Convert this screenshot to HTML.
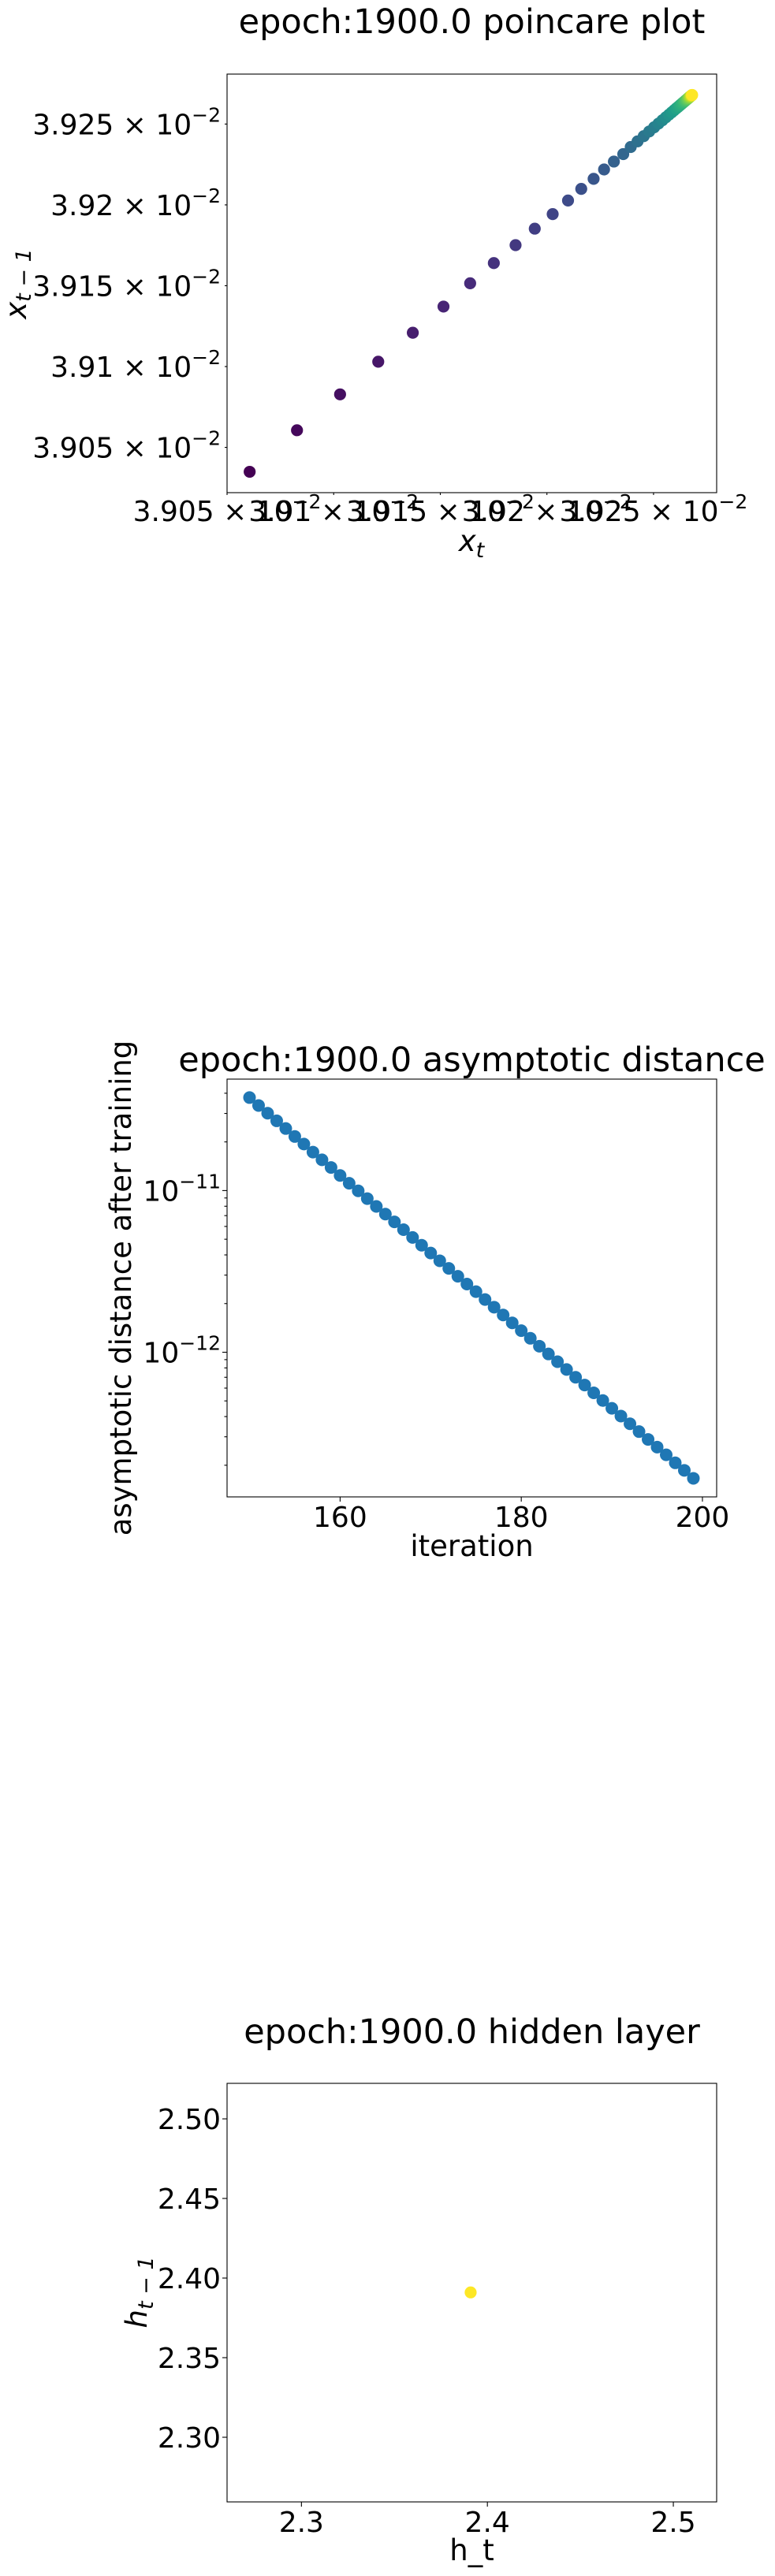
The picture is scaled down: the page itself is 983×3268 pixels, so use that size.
<!DOCTYPE html>
<html><head><meta charset="utf-8"><title>epoch 1900 plots</title>
<style>
html,body{margin:0;padding:0;background:#fff;}
svg{display:block;font-family:"DejaVu Sans","Liberation Sans",sans-serif;}
</style></head>
<body>
<svg id="fig" xmlns="http://www.w3.org/2000/svg" width="983" height="3268" viewBox="0 0 983 3268">
<rect x="0" y="0" width="983" height="3268" fill="#fff"/>
</svg>
<script>
// ---------- Chart 1: poincare plot (sequence values; point i = (v[i+1], v[i])) ----------
const poincareSeq = [0.0390349,0.0390606,0.0390828,0.0391030,0.0391209,0.0391371,0.0391515,0.0391640,0.0391751,0.0391853,
0.0391943,0.0392027,0.0392099,0.0392161,0.0392219,0.0392268,0.0392314,0.0392358,0.0392393,0.0392425,
0.0392454,0.03924798,0.03925028,0.03925232,0.03925414,0.03925576,0.0392572,0.03925848,0.03925962,0.03926063,
0.03926153,0.03926233,0.03926304,0.03926367,0.03926423,0.03926473,0.03926518,0.03926558,0.03926593,0.03926624,
0.03926652,0.03926677,0.03926699,0.03926719,0.03926737,0.03926753,0.03926767,0.03926779,0.0392679,0.039268,0.03926809];
const poincareTicks = [0.03905,0.0391,0.03915,0.0392,0.03925];
const poincareTickLabels = ["3.905","3.91","3.915","3.92","3.925"];

// ---------- Chart 2: asymptotic distance ----------
const iterations = [150,151,152,153,154,155,156,157,158,159,160,161,162,163,164,165,166,167,168,169,170,171,172,173,174,175,176,177,178,179,180,181,182,183,184,185,186,187,188,189,190,191,192,193,194,195,196,197,198,199];
const distances = [3.76e-11,3.36e-11,3.01e-11,2.70e-11,2.42e-11,2.16e-11,1.94e-11,1.73e-11,1.55e-11,1.39e-11,1.24e-11,1.11e-11,
9.96e-12,8.92e-12,7.98e-12,7.15e-12,6.40e-12,5.73e-12,5.13e-12,4.59e-12,4.11e-12,3.68e-12,3.30e-12,2.95e-12,2.64e-12,2.37e-12,2.12e-12,1.90e-12,1.70e-12,1.52e-12,1.36e-12,1.22e-12,1.09e-12,
9.76e-13,8.74e-13,7.82e-13,7.00e-13,6.27e-13,5.61e-13,5.03e-13,4.50e-13,4.03e-13,3.61e-13,3.23e-13,2.89e-13,2.59e-13,2.32e-13,2.07e-13,1.86e-13,1.66e-13];
const iterTicks = [160,180,200];
const distMajorExp = [-11,-12];

// ---------- Chart 3: hidden layer ----------
const hiddenX = [2.391];
const hiddenY = [2.391];
const hiddenXTicks = [2.3,2.4,2.5];
const hiddenXTickLabels = ["2.3","2.4","2.5"];
const hiddenYTicks = [2.30,2.35,2.40,2.45,2.50];
const hiddenYTickLabels = ["2.30","2.35","2.40","2.45","2.50"];

const NS = "http://www.w3.org/2000/svg";
const svg = document.getElementById('fig');
const TICK_FS = 36;
function mk(tag, attrs, parent){
  const e = document.createElementNS(NS, tag);
  for (const k in attrs) e.setAttribute(k, attrs[k]);
  (parent||svg).appendChild(e);
  return e;
}
const VIR = [[68,1,84],[72,40,120],[62,74,137],[49,104,142],[38,130,142],[31,158,137],[53,183,121],[109,205,89],[180,222,44],[253,231,37]];
function viridis(t){
  t = Math.max(0, Math.min(1, t));
  const p = t*(VIR.length-1), i = Math.min(VIR.length-2, Math.floor(p)), f = p-i;
  const c = VIR[i].map((v,k)=>Math.round(v+(VIR[i+1][k]-v)*f));
  return 'rgb('+c.join(',')+')';
}
const AX_L = 288, AX_R = 909;

function frame(top, bottom, name){
  const r = mk('rect',{x:AX_L,y:top,width:AX_R-AX_L,height:bottom-top,fill:'none',stroke:'#000','stroke-width':1.1});
  
  
}
function title(txt, y, name){
  const t = mk('text',{x:598.5,y:y,'text-anchor':'middle','font-size':43,fill:'#000'});
  t.textContent = txt;
  
  
}
function xtick(x, bottom, len){ mk('line',{x1:x,x2:x,y1:bottom,y2:bottom+len,stroke:'#000','stroke-width':1.1}); }
function ytick(y, len){ mk('line',{x1:AX_L-len,x2:AX_L,y1:y,y2:y,stroke:'#000','stroke-width':1.1}); }
function sciLabel(x, y, mant, exp, anchor, name){
  const t = mk('text',{x:x,y:y,'text-anchor':anchor,'font-size':TICK_FS,fill:'#000'});
  const a = mk('tspan',{},t); a.textContent = (mant?mant+' \u00d7 ':'')+'10';
  const b = mk('tspan',{dy:-16,'font-size':25},t); b.textContent = '\u2212'+exp;
  
  
  return t;
}

// ===== Chart 1 =====
(function(){
  const top=94, bottom=625;
  const xmin=0.03905, xmax=0.0392796, ymin=0.0390220, ymax=0.0392809;
  const sx = v => AX_L + (v-xmin)/(xmax-xmin)*(AX_R-AX_L);
  const sy = v => bottom - (v-ymin)/(ymax-ymin)*(bottom-top);
  title('epoch:1900.0 poincare plot', 42, 'poincare-title');
  const g = mk('g',{});
  
  
  const n = poincareSeq.length-1;
  for (let i=0;i<n;i++){
    const c = mk('circle',{cx:sx(poincareSeq[i+1]),cy:sy(poincareSeq[i]),r:7.6,fill:viridis(i/(n-1))},g);
    
    
  }
  frame(top,bottom,'poincare-axes');
  poincareTicks.forEach((v,i)=>{
    xtick(sx(v),bottom,3);
    sciLabel(sx(v),661,poincareTickLabels[i],'2','middle','poincare-x-tick-label');
    ytick(sy(v),3);
    sciLabel(280,sy(v)+13,poincareTickLabels[i],'2','end','poincare-y-tick-label');
  });
  const xl = mk('text',{x:598,y:699,'text-anchor':'middle','font-size':37,'font-style':'italic',fill:'#000'});
  xl.innerHTML = 'x<tspan dy="8" font-size="27">t</tspan>';
  
  
  const yl = mk('text',{x:0,y:0,'text-anchor':'middle','font-size':37,'font-style':'italic',fill:'#000',transform:'translate(33,360) rotate(-90)'});
  yl.innerHTML = 'x<tspan dy="6" font-size="27">t \u2212 1</tspan>';
  
  
})();

// ===== Chart 2 =====
(function(){
  const top=1369, bottom=1899;
  const xmin=147.52, xmax=201.57, lmin=-12.8947, lmax=-10.3106;
  const sx = v => AX_L + (v-xmin)/(xmax-xmin)*(AX_R-AX_L);
  const sy = v => bottom - (Math.log10(v)-lmin)/(lmax-lmin)*(bottom-top);
  title('epoch:1900.0 asymptotic distance', 1359, 'distance-title');
  const g = mk('g',{});
  
  
  iterations.forEach((it,i)=>{
    const c = mk('circle',{cx:sx(it),cy:sy(distances[i]),r:8,fill:'#1f77b4'},g);
    
    
  });
  frame(top,bottom,'distance-axes');
  iterTicks.forEach(v=>{
    xtick(sx(v),bottom,6);
    const t = mk('text',{x:sx(v),y:1937,'text-anchor':'middle','font-size':TICK_FS,fill:'#000'});
    t.textContent = String(v);
    
    
  });
  for (let e=-13;e<=-11;e++){
    for (let m=1;m<10;m++){
      const v = m*Math.pow(10,e);
      const L = Math.log10(v);
      if (L<lmin || L>lmax) continue;
      ytick(sy(v), m===1?6:3.5);
    }
  }
  distMajorExp.forEach(e=>{
    sciLabel(280,sy(Math.pow(10,e))+13,'',String(-e),'end','distance-y-tick-label');
  });
  const xl = mk('text',{x:598.5,y:1974,'text-anchor':'middle','font-size':37,fill:'#000'});
  xl.textContent = 'iteration';
  
  
  const yl = mk('text',{x:0,y:0,'text-anchor':'middle','font-size':37,fill:'#000',transform:'translate(166,1634) rotate(-90)'});
  yl.textContent = 'asymptotic distance after training';
  
  
})();

// ===== Chart 3 =====
(function(){
  const top=2643, bottom=3174;
  const xmin=2.26, xmax=2.5233, ymin=2.2594, ymax=2.5223;
  const sx = v => AX_L + (v-xmin)/(xmax-xmin)*(AX_R-AX_L);
  const sy = v => bottom - (v-ymin)/(ymax-ymin)*(bottom-top);
  title('epoch:1900.0 hidden layer', 2592, 'hidden-title');
  hiddenX.forEach((x,i)=>{
    const c = mk('circle',{cx:sx(x),cy:sy(hiddenY[i]),r:7.6,fill:'#fde725'});
    
    
  });
  frame(top,bottom,'hidden-axes');
  hiddenXTicks.forEach((v,i)=>{
    xtick(sx(v),bottom,6);
    const t = mk('text',{x:sx(v),y:3212,'text-anchor':'middle','font-size':TICK_FS,fill:'#000'});
    t.textContent = hiddenXTickLabels[i];
    
    
  });
  hiddenYTicks.forEach((v,i)=>{
    ytick(sy(v),6);
    const t = mk('text',{x:280,y:sy(v)+13,'text-anchor':'end','font-size':TICK_FS,fill:'#000'});
    t.textContent = hiddenYTickLabels[i];
    
    
  });
  const xl = mk('text',{x:598.5,y:3248,'text-anchor':'middle','font-size':37,fill:'#000'});
  xl.textContent = 'h_t';
  
  
  const yl = mk('text',{x:0,y:0,'text-anchor':'middle','font-size':37,'font-style':'italic',fill:'#000',transform:'translate(186,2908) rotate(-90)'});
  yl.innerHTML = 'h<tspan dy="8" font-size="27">t \u2212 1</tspan>';
  
  
})();
</script>
</body></html>
